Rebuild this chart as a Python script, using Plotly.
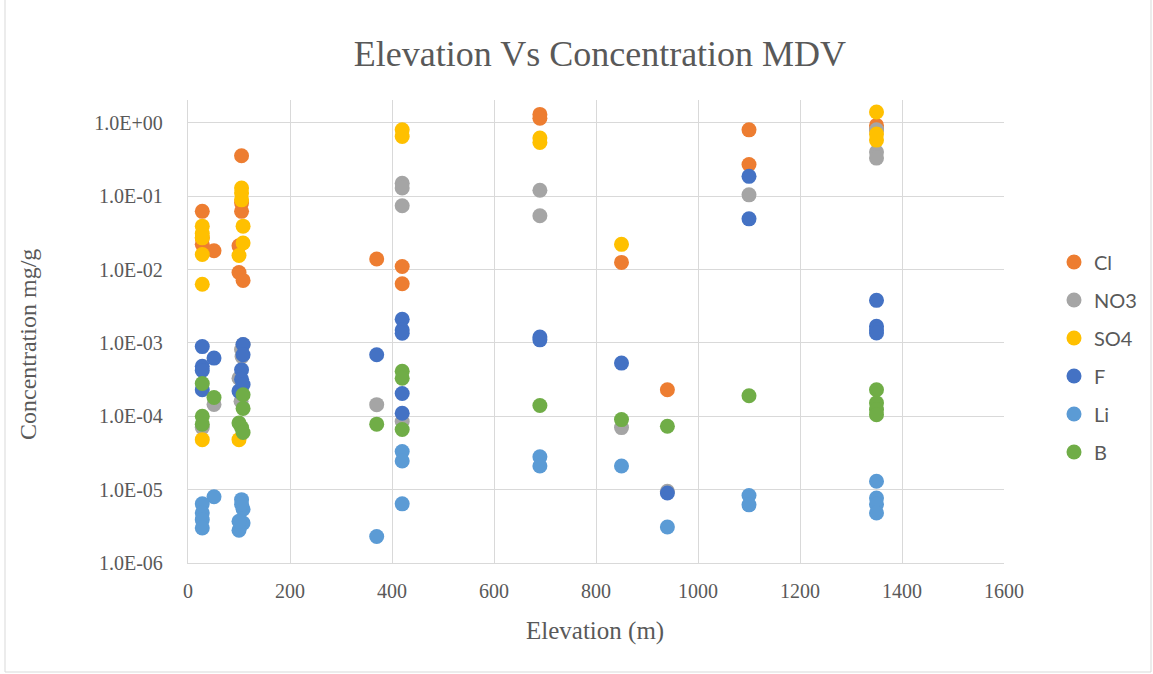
import plotly.graph_objects as go

series_names = ["Cl", "NO3", "SO4", "F", "Li", "B"]
series_colors = ["#ED7D31", "#A5A5A5", "#FFC000", "#4472C4", "#5B9BD5", "#70AD47"]

cl_x = [28, 28, 28, 51, 105, 105, 105, 100, 100, 108, 370, 420, 420, 690, 690, 850, 940, 1100, 1100, 1350, 1350]
cl_y = [0.062, 0.027, 0.022, 0.018, 0.355, 0.081, 0.062, 0.021, 0.0091, 0.0071, 0.0139, 0.011, 0.0064,
        1.3, 1.15, 0.0125, 0.00023, 0.80, 0.27, 0.92, 0.82]

no3_x = [51, 28, 105, 108, 106, 100, 104, 370, 420, 420, 420, 420, 690, 690, 850, 940, 1100, 1350, 1350, 1350]
no3_y = [0.000145, 0.00007, 0.00081, 0.00095, 0.00065, 0.00033, 0.00016, 0.000144, 0.15, 0.129, 0.074, 0.000085,
         0.12, 0.054, 0.00007, 9.5e-6, 0.104, 0.8, 0.4, 0.33]

so4_x = [28, 28, 28, 28, 28, 105, 105, 105, 108, 108, 100, 28, 100, 420, 420, 690, 690, 850, 1350, 1350, 1350]
so4_y = [0.039, 0.031, 0.027, 0.016, 0.0063, 0.129, 0.11, 0.089, 0.039, 0.023, 0.0155, 0.000048, 0.000048,
         0.80, 0.65, 0.62, 0.54, 0.022, 1.4, 0.7, 0.58]

f_x = [28, 51, 28, 28, 28, 108, 108, 105, 105, 100, 108, 370, 420, 420, 420, 420, 420, 690, 690, 850, 940,
       1100, 1100, 1350, 1350, 1350, 1350]
f_y = [0.00089, 0.00062, 0.00048, 0.00042, 0.00023, 0.00095, 0.00069, 0.00043, 0.00032, 0.00022, 0.00027,
       0.00069, 0.0021, 0.0015, 0.00135, 0.000204, 0.00011, 0.0012, 0.0011, 0.00053, 9e-6, 0.186, 0.049,
       0.0038, 0.00168, 0.0015, 0.00136]

li_x = [51, 28, 28, 28, 28, 105, 108, 105, 108, 100, 100, 370, 420, 420, 420, 690, 690, 850, 940, 1100, 1100,
        1350, 1350, 1350, 1350]
li_y = [8.0e-6, 6.4e-6, 4.8e-6, 3.9e-6, 3.0e-6, 7.3e-6, 5.4e-6, 6.3e-6, 3.5e-6, 2.8e-6, 3.7e-6, 2.3e-6,
        3.3e-5, 2.45e-5, 6.4e-6, 2.8e-5, 2.1e-5, 2.1e-5, 3.1e-6, 8.3e-6, 6.2e-6, 1.3e-5, 7.7e-6, 6.3e-6, 4.8e-6]

b_x = [28, 51, 28, 28, 108, 108, 100, 105, 108, 370, 420, 420, 420, 690, 850, 940, 1100, 1350, 1350, 1350, 1350]
b_y = [0.00028, 0.00018, 0.0001, 0.000078, 0.000196, 0.000128, 0.000081, 0.00007, 0.00006, 0.000078,
       0.00041, 0.00033, 0.000066, 0.00014, 0.00009, 0.000073, 0.00019, 0.00023, 0.000152, 0.000123, 0.000105]

x_ticks = [0, 200, 400, 600, 800, 1000, 1200, 1400, 1600]
y_ticks = [1e0, 1e-1, 1e-2, 1e-3, 1e-4, 1e-5, 1e-6]
y_tick_labels = ["1.0E+00", "1.0E-01", "1.0E-02", "1.0E-03", "1.0E-04", "1.0E-05", "1.0E-06"]

all_x = [cl_x, no3_x, so4_x, f_x, li_x, b_x]
all_y = [cl_y, no3_y, so4_y, f_y, li_y, b_y]

serif = "Liberation Serif"
txt = "#595959"
grid = "#D9D9D9"

fig = go.Figure()
for name, color, xs, ys in zip(series_names, series_colors, all_x, all_y):
    fig.add_trace(go.Scatter(
        x=xs, y=ys, mode="markers", name=name, legendgroup=name,
        marker=dict(color=color, size=15, line=dict(width=0)),
    ))

fig.update_layout(
    width=1153, height=674,
    font=dict(family=serif, color=txt),
    paper_bgcolor="white", plot_bgcolor="white",
    margin=dict(l=188, r=149, t=100, b=111, autoexpand=False),
    title=dict(text="Elevation Vs Concentration MDV", x=600 / 1153, xanchor="center",
               xref="container", yref="container", y=1 - 53 / 674, yanchor="middle",
               font=dict(family=serif, size=36, color=txt)),
    legend=dict(x=1054 / 1153, xref="container", xanchor="left",
                y=1 - 357 / 674, yref="container", yanchor="middle",
                font=dict(family="Lato", size=20, color=txt),
                traceorder="grouped", tracegroupgap=9, itemwidth=30),
    showlegend=True,
)
fig.update_xaxes(range=[0, 1600], tickvals=x_ticks, showgrid=True, gridcolor=grid, gridwidth=1.3,
                 zeroline=False, showline=True, linecolor=grid, linewidth=1.3,
                 tickfont=dict(family=serif, size=20, color=txt), ticklabelstandoff=10)
fig.update_yaxes(type="log", range=[-6, 0.31], tickvals=y_ticks, ticktext=y_tick_labels,
                 showgrid=True, gridcolor=grid, gridwidth=1.3, zeroline=False,
                 showline=True, linecolor=grid, linewidth=1.3,
                 tickfont=dict(family=serif, size=20, color=txt), ticklabelstandoff=20)

fig.add_annotation(text="Elevation (m)", x=(595 - 188) / 816, xref="paper", y=(563 - 631) / 463, yref="paper",
                   showarrow=False, xanchor="center", yanchor="middle",
                   font=dict(family=serif, size=25, color=txt))
fig.add_annotation(text="Concentration mg/g", x=(28 - 188) / 816, xref="paper", y=(563 - 345) / 463,
                   yref="paper", showarrow=False, textangle=-90, xanchor="center", yanchor="middle",
                   font=dict(family=serif, size=24, color=txt))
fig.add_shape(type="rect", xref="paper", yref="paper",
              x0=(5 - 188) / 816, x1=(1151 - 188) / 816, y0=(563 - 672) / 463, y1=(563 + 6) / 463,
              line=dict(color=grid, width=1), fillcolor="rgba(0,0,0,0)", layer="below")

fig.write_html("out.html", config={"displayModeBar": False},
               post_script="document.body.style.margin='0';")
